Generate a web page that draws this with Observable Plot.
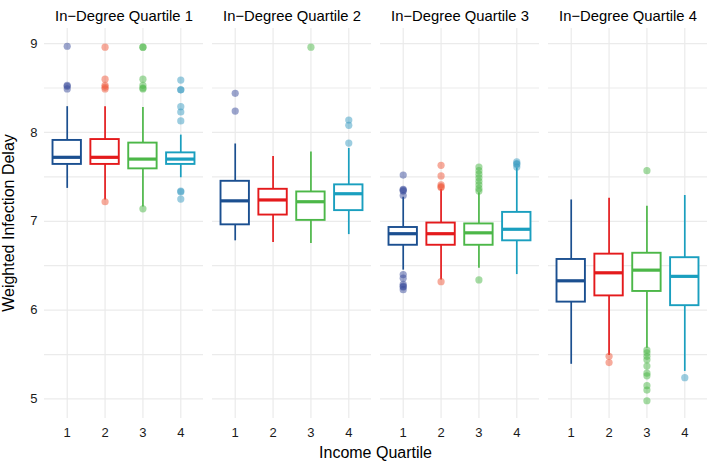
<!DOCTYPE html>
<html>
<head>
<meta charset="utf-8">
<script src="https://cdn.jsdelivr.net/npm/d3@7"></script>
<script src="https://cdn.jsdelivr.net/npm/@observablehq/plot@0.6"></script>
<style>
  html, body { margin: 0; padding: 0; background: #fff; }
  #chart { width: 708px; height: 465px; }
  svg { font-family: "Liberation Sans", Arial, sans-serif; }
</style>
</head>
<body>
<div id="chart"></div>
<script>
// In-degree quartiles (facets) and income quartiles (x categories)
const inDegreeQuartiles = [1, 2, 3, 4];
const incomeQuartiles = [1, 2, 3, 4];
const colors = ["#1b4f90", "#e41a1c", "#4cb748", "#1a9fbf"];
const outlierColors = ["#3a4b9c", "#f0583a", "#4cb748", "#3a9cc2"];

// Box statistics: rows = in-degree quartile, columns = income quartile
const whiskerLow  = [[7.37, 7.24, 7.16, 7.49], [6.78, 6.76, 6.75, 6.85], [6.45, 6.34, 6.47, 6.40], [5.39, 5.49, 5.57, 5.31]];
const boxLow      = [[7.64, 7.64, 7.59, 7.64], [6.96, 7.07, 7.01, 7.12], [6.73, 6.73, 6.73, 6.78], [6.09, 6.16, 6.21, 6.05]];
const medians     = [[7.72, 7.72, 7.70, 7.70], [7.23, 7.24, 7.22, 7.31], [6.86, 6.86, 6.87, 6.91], [6.33, 6.42, 6.45, 6.38]];
const boxHigh     = [[7.91, 7.92, 7.88, 7.77], [7.45, 7.36, 7.33, 7.41], [6.93, 6.98, 6.97, 7.10], [6.57, 6.63, 6.64, 6.59]];
const whiskerHigh = [[8.29, 8.29, 8.28, 7.97], [7.87, 7.73, 7.78, 7.82], [7.27, 7.36, 7.32, 7.60], [7.24, 7.26, 7.17, 7.29]];

// Outliers: [in-degree quartile, income quartile, value]
const outliers = [
  [1,1,8.97],[1,1,8.53],[1,1,8.52],[1,1,8.49],
  [1,2,8.96],[1,2,8.60],[1,2,8.53],[1,2,8.51],[1,2,8.49],[1,2,7.22],
  [1,3,8.96],[1,3,8.96],[1,3,8.60],[1,3,8.53],[1,3,8.50],[1,3,8.49],[1,3,7.14],
  [1,4,8.59],[1,4,8.48],[1,4,8.48],[1,4,8.29],[1,4,8.23],[1,4,8.13],[1,4,7.34],[1,4,7.33],[1,4,7.25],
  [2,1,8.44],[2,1,8.24],
  [2,3,8.96],
  [2,4,8.14],[2,4,8.08],[2,4,7.88],
  [3,1,7.52],[3,1,7.36],[3,1,7.35],[3,1,7.34],[3,1,7.29],[3,1,6.40],[3,1,6.36],[3,1,6.29],[3,1,6.27],[3,1,6.26],[3,1,6.23],
  [3,2,7.63],[3,2,7.51],[3,2,7.41],[3,2,7.39],[3,2,7.38],[3,2,6.32],
  [3,3,7.61],[3,3,7.57],[3,3,7.53],[3,3,7.49],[3,3,7.45],[3,3,7.41],[3,3,7.37],[3,3,7.34],[3,3,6.34],
  [3,4,7.67],[3,4,7.65],[3,4,7.64],[3,4,7.61],
  [4,2,5.48],[4,2,5.41],
  [4,3,7.57],[4,3,5.55],[4,3,5.52],[4,3,5.48],[4,3,5.44],[4,3,5.37],[4,3,5.29],[4,3,5.26],[4,3,5.15],[4,3,5.10],[4,3,4.98],
  [4,4,5.24]
];

const yTicks = [5, 6, 7, 8, 9];
const yGrid = [5, 5.5, 6, 6.5, 7, 7.5, 8, 8.5, 9];

const boxes = [];
inDegreeQuartiles.forEach((deg, i) => {
  incomeQuartiles.forEach((inc, j) => {
    boxes.push({deg, inc, color: colors[j],
      lo: whiskerLow[i][j], q1: boxLow[i][j], med: medians[i][j], q3: boxHigh[i][j], hi: whiskerHigh[i][j]});
  });
});
const outs = outliers.map(([deg, inc, v]) => ({deg, inc, v, color: outlierColors[inc - 1]}));

const halfW = 0.375;
const chart = Plot.plot({
  width: 708,
  height: 465,
  marginLeft: 44,
  marginRight: 1,
  marginTop: 28,
  marginBottom: 47,
  style: {fontFamily: "Liberation Sans, Arial, sans-serif", background: "#fff"},
  fx: {domain: inDegreeQuartiles, paddingInner: 0.055, paddingOuter: 0},
  x: {domain: [0.4, 4.6]},
  y: {domain: [4.78, 9.17]},
  marks: [
    Plot.gridY(yGrid, {stroke: "#ebebeb", strokeOpacity: 1, strokeWidth: 1.2}),
    Plot.gridX(incomeQuartiles, {stroke: "#ebebeb", strokeOpacity: 1, strokeWidth: 1.2}),
    Plot.axisFx({anchor: "top", tickSize: 0, tickPadding: 8, label: null, fontSize: 14.8, fill: "#000",
      tickFormat: d => "In\u2212Degree Quartile " + d}),
    Plot.axisY({ticks: yTicks, tickSize: 0, tickPadding: 7, label: null, fontSize: 13, fill: "#1a1a1a", tickFormat: d => String(d)}),
    Plot.axisX({ticks: incomeQuartiles, tickSize: 0, tickPadding: 9, label: null, fontSize: 13, fill: "#1a1a1a", tickFormat: d => String(d)}),
    // whiskers
    Plot.ruleX(boxes, {fx: "deg", x: "inc", y1: "lo", y2: "q1", stroke: "color", strokeWidth: 1.7}),
    Plot.ruleX(boxes, {fx: "deg", x: "inc", y1: "q3", y2: "hi", stroke: "color", strokeWidth: 1.7}),
    // boxes
    Plot.rect(boxes, {fx: "deg", x1: d => d.inc - halfW, x2: d => d.inc + halfW, y1: "q1", y2: "q3",
      fill: "white", stroke: "color", strokeWidth: 1.9}),
    // medians
    Plot.ruleY(boxes, {fx: "deg", y: "med", x1: d => d.inc - halfW, x2: d => d.inc + halfW, stroke: "color", strokeWidth: 3.2}),
    // outliers
    Plot.dot(outs, {fx: "deg", x: "inc", y: "v", r: 3.6, fill: "color", fillOpacity: 0.5, stroke: "none"})
  ]
});

const container = document.getElementById("chart");
container.appendChild(chart);
const svg = d3.select(chart);
svg.append("text")
  .attr("x", (44 + 707) / 2).attr("y", 458)
  .attr("text-anchor", "middle")
  .attr("font-size", 16).attr("fill", "#000")
  .text("Income Quartile");
svg.append("text")
  .attr("transform", `translate(14,${(28 + 418) / 2}) rotate(-90)`)
  .attr("text-anchor", "middle")
  .attr("font-size", 16).attr("fill", "#000")
  .text("Weighted Infection Delay");
</script>
</body>
</html>
